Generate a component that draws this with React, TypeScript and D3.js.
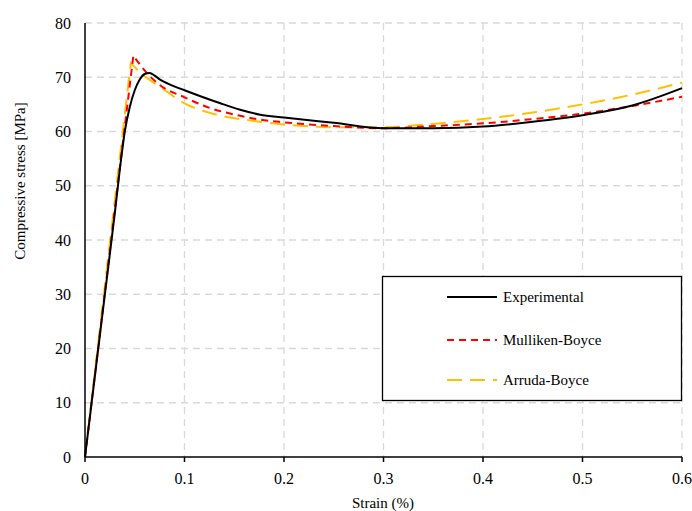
import React from "react";
import * as d3 from "d3";

const expStrain = [0, 0.01, 0.02, 0.03, 0.035, 0.04, 0.045, 0.05, 0.055, 0.06, 0.065, 0.07, 0.075, 0.085, 0.1, 0.116, 0.136, 0.156, 0.176, 0.2, 0.25, 0.3, 0.35, 0.4, 0.45, 0.5, 0.55, 0.6];
const expStress = [0, 15, 30, 45, 53, 60, 64.5, 67.6, 69.6, 70.6, 70.8, 70.3, 69.6, 68.7, 67.6, 66.5, 65.2, 64.0, 63.1, 62.6, 61.6, 60.6, 60.6, 60.9, 61.8, 63.0, 64.8, 68.0];

const mbStrain = [0, 0.0486, 0.062, 0.075, 0.1, 0.126, 0.156, 0.176, 0.2, 0.25, 0.3, 0.35, 0.4, 0.45, 0.5, 0.55, 0.6];
const mbStress = [0, 74.0, 70.8, 68.6, 66.3, 64.3, 62.9, 62.2, 61.7, 61.0, 60.6, 61.0, 61.5, 62.3, 63.3, 64.7, 66.4];

const abStrain = [0, 0.046, 0.0586, 0.075, 0.1, 0.126, 0.176, 0.2, 0.25, 0.3, 0.35, 0.4, 0.45, 0.5, 0.55, 0.6];
const abStress = [0, 72.6, 70.4, 68.3, 65.2, 63.4, 61.8, 61.3, 60.8, 60.8, 61.4, 62.3, 63.5, 65.0, 66.8, 69.0];

const xTicks = [0, 0.1, 0.2, 0.3, 0.4, 0.5, 0.6];
const yTicks = [0, 10, 20, 30, 40, 50, 60, 70, 80];
const seriesNames = ["Experimental", "Mulliken-Boyce", "Arruda-Boyce"];

const W = 692, H = 511;
const left = 85, right = 682, top = 23, bottom = 457;
const ts = { fontFamily: "Liberation Serif" };

export default function App() {
  const x = d3.scaleLinear().domain([0, 0.6]).range([left, right]);
  const y = d3.scaleLinear().domain([0, 80]).range([bottom, top]);
  const line = (xs: number[], ys: number[]) =>
    d3.line<number>().x((_, i) => x(xs[i])).y((d) => y(d)).curve(d3.curveMonotoneX)(ys) || "";
  const lineLin = (xs: number[], ys: number[]) =>
    d3.line<number>().x((_, i) => x(xs[i])).y((d) => y(d))(ys) || "";

  const modelPath = (xs: number[], ys: number[]) => {
    const rise = lineLin(xs.slice(0, 2), ys.slice(0, 2));
    const rest = line(xs.slice(1), ys.slice(1));
    return rise + rest.replace(/^M/, "L");
  };

  const series = [
    { name: seriesNames[0], d: line(expStrain, expStress), color: "#000000", dash: "none", w: 2 },
    { name: seriesNames[1], d: modelPath(mbStrain, mbStress), color: "#FF0000", dash: "7,5", w: 2 },
    { name: seriesNames[2], d: modelPath(abStrain, abStress), color: "#FFC000", dash: "15,8", w: 2 },
  ];

  const legendRows = [297, 340, 380];

  return (
    <svg width={W} height={H} style={{ display: "block", position: "absolute", left: 0, top: 0 }}>
      <rect x={0} y={0} width={W} height={H} fill="#fff" />
      {yTicks.filter((t) => t > 0).map((t) => (
        <line key={"gy" + t} x1={left} x2={right} y1={y(t)} y2={y(t)} stroke="#d9d9d9" strokeWidth={1.3} strokeDasharray="7,5" />
      ))}
      {xTicks.filter((t) => t > 0).map((t) => (
        <line key={"gx" + t} x1={x(t)} x2={x(t)} y1={top} y2={bottom} stroke="#d9d9d9" strokeWidth={1.3} strokeDasharray="7,5" />
      ))}
      {series.slice().reverse().map((s) => (
        <path key={s.name} d={s.d} fill="none" stroke={s.color} strokeWidth={s.w} strokeDasharray={s.dash} />
      ))}
      <line x1={left} x2={left} y1={top} y2={bottom} stroke="#000" strokeWidth={1.5} />
      <line x1={left} x2={right} y1={bottom} y2={bottom} stroke="#000" strokeWidth={1.5} />
      {xTicks.map((t) => (
        <g key={"xt" + t}>
          <line x1={x(t)} x2={x(t)} y1={bottom} y2={bottom + 5} stroke="#000" strokeWidth={1.5} />
          <text x={x(t)} y={484} textAnchor="middle" fontSize={16} style={ts}>{t === 0 ? "0" : String(t)}</text>
        </g>
      ))}
      {yTicks.map((t) => (
        <text key={"yt" + t} x={71} y={y(t) + 5.5} textAnchor="end" fontSize={16} style={ts}>{t}</text>
      ))}
      <text x={383} y={508} textAnchor="middle" fontSize={15} style={ts}>Strain (%)</text>
      <text transform="translate(25,181) rotate(-90)" textAnchor="middle" fontSize={15} style={ts}>Compressive stress [MPa]</text>
      <rect x={382.5} y={276.5} width={299} height={124} fill="#fff" stroke="#000" strokeWidth={1.3} />
      {series.map((s, i) => (
        <g key={"lg" + s.name}>
          <line x1={447} x2={497} y1={legendRows[i]} y2={legendRows[i]} stroke={s.color} strokeWidth={s.w} strokeDasharray={s.dash} />
          <text x={503} y={legendRows[i] + 5} fontSize={15} style={ts}>{s.name}</text>
        </g>
      ))}
    </svg>
  );
}
